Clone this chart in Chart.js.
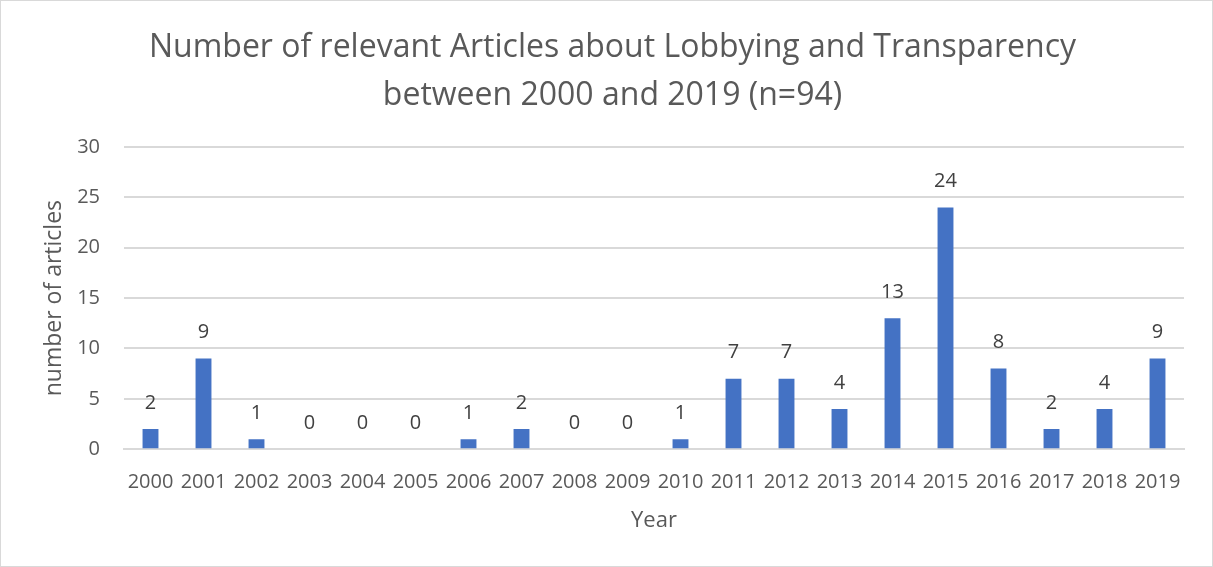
<!DOCTYPE html>
<html>
<head>
<meta charset="utf-8">
<script src="https://cdn.jsdelivr.net/npm/chart.js@4/dist/chart.umd.min.js"></script>
<style>
  html, body { margin: 0; padding: 0; background: #fff; }
  #wrap { width: 1213px; height: 567px; box-sizing: border-box; border: 1px solid #d9d9d9; }
</style>
</head>
<body>
<div id="wrap"><canvas id="barChart"></canvas></div>
<script>
// data
const years = ['2000', '2001', '2002', '2003', '2004', '2005', '2006', '2007', '2008', '2009',
               '2010', '2011', '2012', '2013', '2014', '2015', '2016', '2017', '2018', '2019'];
const articles = [2, 9, 1, 0, 0, 0, 1, 2, 0, 0, 1, 7, 7, 4, 13, 24, 8, 2, 4, 9];
const titleLines = ['Number of relevant Articles about Lobbying and Transparency', 'between 2000 and 2019 (n=94)'];

const FONT = "'Open Sans', 'Noto Sans', sans-serif";

// values drawn above each bar
const valueLabels = {
    id: 'valueLabels',
    afterDatasetsDraw(chart) {
        const ctx = chart.ctx;
        const meta = chart.getDatasetMeta(0);
        ctx.save();
        ctx.font = '20px ' + FONT;
        ctx.fillStyle = '#404040';
        ctx.textAlign = 'center';
        ctx.textBaseline = 'middle';
        meta.data.forEach((bar, i) => {
            ctx.fillText(String(articles[i]), bar.x, bar.y - 26);
        });
        ctx.restore();
    }
};

new Chart(document.getElementById('barChart'), {
    type: 'bar',
    data: {
        labels: years,
        datasets: [{ data: articles, backgroundColor: '#4472C4', barPercentage: 0.3, categoryPercentage: 1.0 }]
    },
    options: {
        responsive: true,
        maintainAspectRatio: false,
        animation: false,
        layout: { padding: { left: 40, right: 28, top: 0, bottom: 35 } },
        plugins: {
            legend: { display: false },
            tooltip: { enabled: false },
            title: {
                display: true,
                text: titleLines,
                color: '#595959',
                font: { family: FONT, size: 32, weight: 'normal', lineHeight: 1.5 },
                padding: { top: 23, bottom: 27 }
            }
        },
        scales: {
            x: {
                grid: { display: false, drawTicks: false },
                border: { color: '#d9d9d9', width: 2 },
                ticks: { color: '#595959', font: { family: FONT, size: 20 }, padding: 21, maxRotation: 0, autoSkip: false },
                title: { display: true, text: 'Year', color: '#595959', font: { family: FONT, size: 22, lineHeight: 0.9 }, padding: { top: -4, bottom: 0 } }
            },
            y: {
                min: 0, max: 30,
                grid: { color: '#d9d9d9', lineWidth: 2, drawTicks: false },
                border: { display: false },
                ticks: { stepSize: 5, color: '#595959', font: { family: FONT, size: 20 }, padding: 24 },
                title: { display: true, text: 'number of articles', color: '#595959', font: { family: FONT, size: 23 }, padding: { top: 0, bottom: 2 } },
                afterFit(scale) { scale.width = 83; }
            }
        }
    },
    plugins: [valueLabels]
});
</script>
</body>
</html>
